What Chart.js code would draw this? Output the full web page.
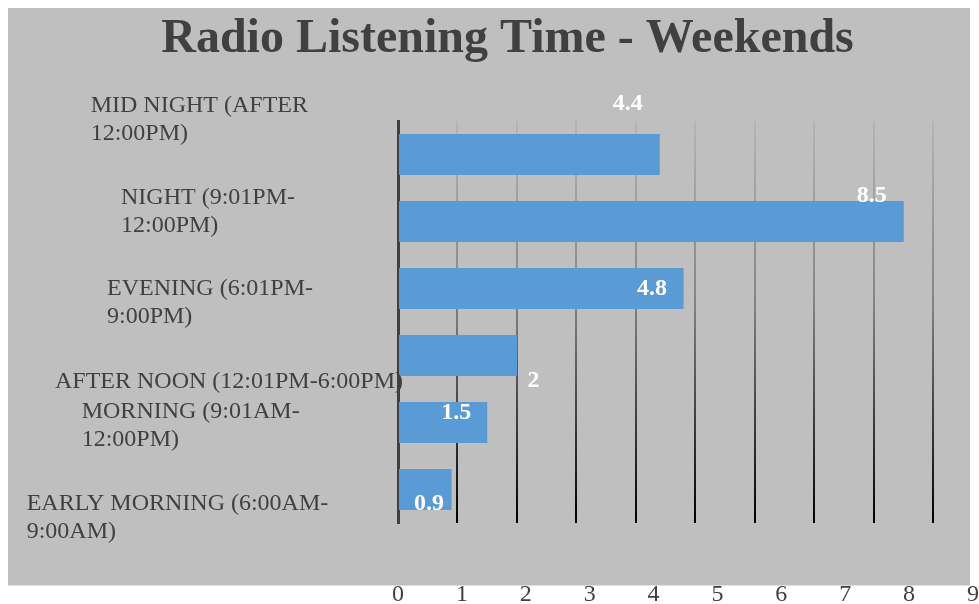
<!DOCTYPE html>
<html>
<head>
<meta charset="utf-8">
<script src="https://cdn.jsdelivr.net/npm/chart.js@4/dist/chart.umd.min.js"></script>
<style>
html,body{margin:0;padding:0;background:#fff;overflow:hidden;}
#wrap{width:979px;height:604px;}
</style>
</head>
<body>
<div id="wrap"><canvas id="c" width="979" height="604"></canvas></div>
<script>
// ---- data ----
const titleText = "Radio Listening Time - Weekends";
const categories = [
  ["MID NIGHT (AFTER", "12:00PM)"],
  ["NIGHT (9:01PM-", "12:00PM)"],
  ["EVENING (6:01PM-", "9:00PM)"],
  ["AFTER NOON (12:01PM-6:00PM)"],
  ["MORNING (9:01AM-", "12:00PM)"],
  ["EARLY MORNING (6:00AM-", "9:00AM)"]
];
const values = [4.4, 8.5, 4.8, 2, 1.5, 0.9];
const axisMin = 0;
const tickStep = 1;

// ---- styles (label placement quirks of the original) ----
const catLabelDx = [-307.3, -277, -291, -343, -316.3, -371.3];
const catLabelDy = [-42.8, -17.5, 6.5, 32.5, -4.5, 20.5];
const valLabelDx = [-32, -32, -31.6, 16.5, -31, -22.5];
const valLabelDy = [-50.5, -25.5, 0.5, 25.5, -10, 14];
const FONT = '"Liberation Serif", "Times New Roman", serif';
const TEXT = '#404040';

let gridGrad = null;
function gridColor(ctx) {
  if (ctx.tick && ctx.tick.value === 0) return 'rgba(0,0,0,0)';
  const chart = ctx.chart;
  const a = chart.chartArea;
  if (!a) return '#888';
  if (!gridGrad) {
    gridGrad = chart.ctx.createLinearGradient(0, a.top, 0, a.bottom);
    gridGrad.addColorStop(0, 'rgba(180,180,180,1)');
    gridGrad.addColorStop(0.45, 'rgba(132,132,132,1)');
    gridGrad.addColorStop(1, 'rgba(0,0,0,1)');
  }
  return gridGrad;
}

const bgPlugin = {
  id: 'bgPanel',
  beforeDraw(chart) {
    const c = chart.ctx;
    c.save();
    c.fillStyle = '#ffffff';
    c.fillRect(0, 0, chart.width, chart.height);
    c.fillStyle = '#bfbfbf';
    c.fillRect(8, 8, 962, 577.5);
    c.restore();
  }
};

const labelPlugin = {
  id: 'labels',
  afterDraw(chart) {
    const c = chart.ctx;
    const ys = chart.scales.y;
    const left = chart.chartArea.left;
    c.save();
    c.font = '24px ' + FONT;
    c.fillStyle = TEXT;
    c.textAlign = 'left';
    c.textBaseline = 'alphabetic';
    categories.forEach((lines, i) => {
      const cy = ys.getPixelForValue(i);
      lines.forEach((t, j) => c.fillText(t, left + catLabelDx[i], cy + catLabelDy[i] + j * 28.3));
    });
    const meta = chart.getDatasetMeta(0);
    c.font = 'bold 24px ' + FONT;
    c.fillStyle = '#ffffff';
    c.textAlign = 'center';
    c.textBaseline = 'middle';
    meta.data.forEach((bar, i) => {
      c.fillText(String(values[i]), bar.x + valLabelDx[i], bar.y + valLabelDy[i]);
    });
    c.restore();
  }
};

new Chart(document.getElementById('c'), {
  type: 'bar',
  data: {
    labels: categories,
    datasets: [{
      data: values,
      backgroundColor: '#5b9bd5',
      borderWidth: 0,
      barPercentage: 0.612,
      categoryPercentage: 1.0
    }]
  },
  options: {
    indexAxis: 'y',
    responsive: false,
    devicePixelRatio: 1,
    animation: false,
    layout: { padding: { left: 36, right: 0, top: 0, bottom: 0 } },
    plugins: {
      legend: { display: false },
      tooltip: { enabled: false },
      title: {
        display: true,
        text: titleText,
        color: TEXT,
        font: { family: FONT, size: 48, weight: 'bold', lineHeight: 1.2 },
        padding: { top: 10.5, bottom: 52.9 }
      }
    },
    scales: {
      y: {
        type: 'category',
        afterFit(s) { s.width = 362; },
        ticks: { display: false },
        grid: { display: false, drawTicks: false },
        border: { display: true, color: TEXT, width: 3 }
      },
      x: {
        type: 'linear',
        position: 'bottom',
        min: axisMin,
        max: 9.765,
        afterFit(s) { s.height = 57; },
        ticks: { display: false, stepSize: tickStep, includeBounds: false },
        grid: { display: true, drawTicks: false, color: gridColor, lineWidth: 2 },
        border: { display: false }
      },
      x2: {
        type: 'linear',
        axis: 'x',
        position: 'bottom',
        min: axisMin,
        max: 9.094,
        weight: 1,
        afterFit(s) { s.height = 24; },
        ticks: {
          stepSize: tickStep, includeBounds: false, autoSkip: false, maxRotation: 0,
          padding: 0, color: TEXT, font: { family: FONT, size: 24 }
        },
        grid: { display: false, drawTicks: false },
        border: { display: false }
      }
    }
  },
  plugins: [bgPlugin, labelPlugin]
});
</script>
</body>
</html>
